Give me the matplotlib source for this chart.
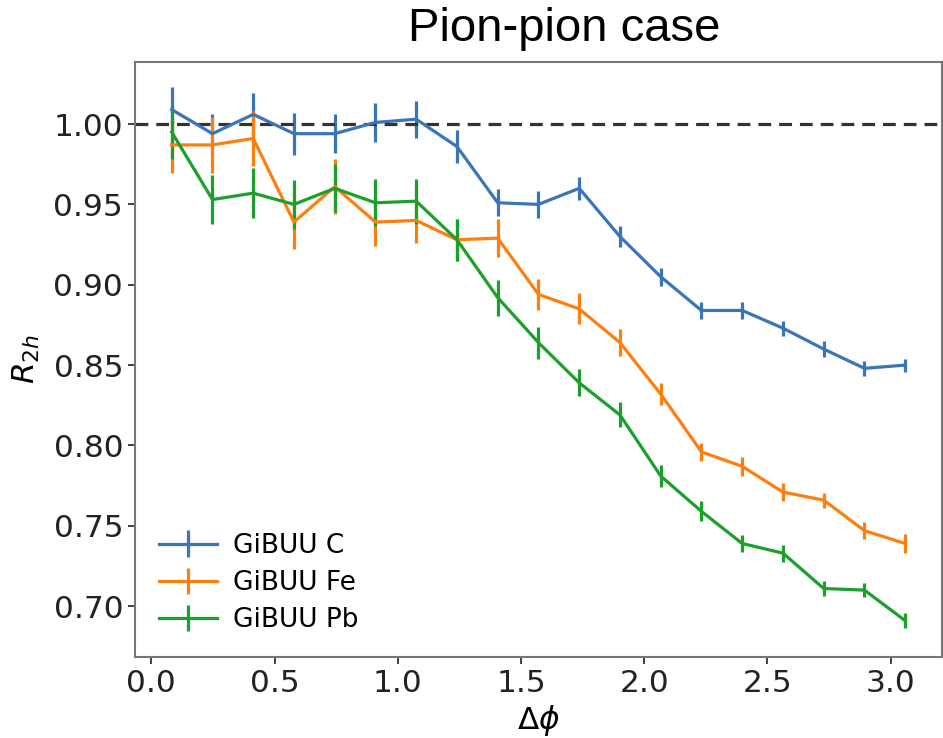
import numpy as np
import matplotlib
matplotlib.use("Agg")
import matplotlib.pyplot as plt

# bin centres in delta phi (19 bins from 0 to pi)
dphi = (np.arange(19) + 0.5) * np.pi / 19

r_c = [1.009, 0.994, 1.006, 0.994, 0.994, 1.001, 1.003, 0.986, 0.951, 0.950,
       0.960, 0.930, 0.905, 0.884, 0.884, 0.873, 0.860, 0.848, 0.850]
err_c = [0.014, 0.012, 0.013, 0.013, 0.012, 0.012, 0.0115, 0.0105, 0.0085, 0.0083,
         0.0073, 0.0067, 0.0057, 0.005, 0.005, 0.0047, 0.0047, 0.0045, 0.004]

r_fe = [0.987, 0.987, 0.991, 0.939, 0.961, 0.939, 0.940, 0.928, 0.929, 0.894,
        0.885, 0.864, 0.832, 0.796, 0.787, 0.771, 0.766, 0.747, 0.739]
err_fe = [0.0175, 0.0175, 0.017, 0.0166, 0.017, 0.015, 0.014, 0.013, 0.012, 0.0098,
          0.0097, 0.0085, 0.007, 0.0057, 0.006, 0.0054, 0.0047, 0.0052, 0.0057]

r_pb = [0.995, 0.953, 0.957, 0.950, 0.960, 0.951, 0.952, 0.928, 0.892, 0.864,
        0.839, 0.819, 0.781, 0.759, 0.739, 0.733, 0.711, 0.710, 0.691]
err_pb = [0.0166, 0.0155, 0.0157, 0.0154, 0.015, 0.0147, 0.014, 0.013, 0.0112, 0.010,
          0.0083, 0.0078, 0.007, 0.0062, 0.005, 0.0052, 0.0047, 0.0044, 0.0047]

labels = ["GiBUU C", "GiBUU Fe", "GiBUU Pb"]
colors = ["#3a75b8", "#ff7f0e", "#1ca02c"]

fig = plt.figure(figsize=(9.43, 7.38), dpi=100)
ax = fig.add_axes([0.1432, 0.110, 0.8556, 0.806])

for y, e, lab, col in zip([r_c, r_fe, r_pb], [err_c, err_fe, err_pb], labels, colors):
    ax.errorbar(dphi, y, yerr=e, color=col, label=lab, linewidth=2.3, elinewidth=2.3)

ax.axhline(1.0, color="#333333", linestyle="--", linewidth=2.3, dashes=(4, 2.5))

ax.set_ylim(0.6685, 1.0386)
ax.set_xticks([0.0, 0.5, 1.0, 1.5, 2.0, 2.5, 3.0])
ax.set_yticks([0.70, 0.75, 0.80, 0.85, 0.90, 0.95, 1.00])
ax.tick_params(labelsize=22.5, length=5, width=1.2, colors="#222222")
for s in ax.spines.values():
    s.set_color("#777777")
    s.set_linewidth(1.5)

ax.set_xlabel(r"$\Delta\phi$", fontsize=22.5, labelpad=4)
ax.set_ylabel(r"$R_{2h}$", fontsize=22.5, labelpad=8)
ax.legend(loc="lower left", fontsize=19, frameon=False, handlelength=2.2,
          borderaxespad=0.5, handletextpad=0.6, labelspacing=0.42)

fig.text(0.598, 0.944, "Pion-pion case", fontsize=34, family="Liberation Sans",
         ha="center", va="baseline")

fig.savefig("out.png", dpi=100)
